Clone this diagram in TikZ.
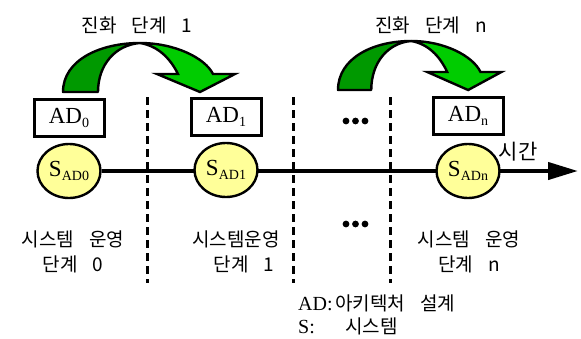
\documentclass[tikz,border=0pt]{standalone}
\usepackage{fontspec}
\setmainfont{Liberation Serif}
\newfontfamily\krfont[WordSpace=3.5]{Noto Sans CJK KR}
\usepackage{tikz}
\usetikzlibrary{shapes.geometric, positioning, arrows.meta, backgrounds}

\definecolor{sysyellow}{RGB}{255,255,153}
\definecolor{backgreen}{RGB}{0,153,0}
\definecolor{frontgreen}{RGB}{0,204,0}
\newcommand{\lowtxt}[2]{\raisebox{-0.35ex}{\fontsize{#1}{#1}\selectfont #2}}

\begin{document}
\begin{tikzpicture}[x=1pt,y=-1pt,node distance=5pt,
                    evoarrow/.pic={
                      \filldraw[fill=backgreen,line width=2.4pt,line join=round]
                        (0,0) .. controls (0,-32) and (37,-49) .. (77,-49)
                        .. controls (52,-47) and (35,-27) .. (35,0) -- cycle;
                      \filldraw[fill=frontgreen,line width=2.4pt,line join=miter]
                        (77,-49) .. controls (112,-49) and (142,-34) .. (150,-18)
                        -- (172,-18) -- (137,0) -- (94,-18) -- (115,-18)
                        .. controls (107,-34) and (95,-46) .. (77,-49) -- cycle;
                    }]
\tikzstyle{every node}=[inner sep=0pt]
\tikzstyle{sysnode}=[ellipse,draw=black,line width=2.4pt,fill=sysyellow,minimum width=63pt,minimum height=54pt,font=\fontsize{23}{23}\selectfont]
\tikzstyle{adbox}=[rectangle,draw=black,line width=3pt,minimum width=70pt,minimum height=37pt,font=\fontsize{23}{23}\selectfont]
\tikzstyle{krtext}=[align=center,font=\krfont\fontsize{19}{25}\selectfont]
\tikzstyle{stageline}=[line width=3pt,dash pattern=on 8pt off 5pt]
\useasboundingbox (0,0) rectangle (581,338);

        % systems on the time line
        \node[sysnode]                (s0)   at (69,171)          {S\lowtxt{14}{AD0}};
        \node[sysnode]                (s1)   at (226,170)         {S\lowtxt{14}{AD1}};
        \node[sysnode]                (sn)   at (468,171)         {S\lowtxt{14}{ADn}};
        \coordinate                   (tend) at (578,171);

        % architecture designs
        \node[adbox]                  (ad0)  [above=5pt of s0]    {AD\lowtxt{14}{0}};
        \node[adbox]                  (ad1)  [above=5pt of s1]    {AD\lowtxt{14}{1}};
        \node[adbox]                  (adn)  [above=7pt of sn]    {AD\lowtxt{14}{n}};

        % evolution steps
        \pic at (63,92) {evoarrow};
        \pic[xscale=0.95] at (338,90) {evoarrow};
        \node[krtext]                 (evo1) at (137,25)          {진화 단계 1};
        \node[krtext]                 (evon) at (431,25)          {진화 단계 n};

        % operation stages
        \node[krtext]                 (op0)  at (73,252)          {시스템 운영\\단계 0};
        \node[krtext]                 (op1)  at (236,252)         {시스템운영\\\hspace*{16pt}단계 1};
        \node[krtext]                 (opn)  at (469,252)         {시스템 운영\\단계 n};
        \node[krtext,font=\krfont\fontsize{21}{21}\selectfont] (time) at (518,152) {시간};

        \foreach \x in {147,293,390}
          \draw[stageline] (\x,97) -- (\x,283);
        \foreach \y in {121,224}
          \foreach \i in {0,1,2}
            \fill (346+\i*9.5,\y) circle (3.4);

        % legend
        \node[anchor=west]            (leg1) at (298,303)
          {\fontsize{20}{20}\selectfont\makebox[37pt][l]{AD:}\krfont\fontsize{19}{19}\selectfont 아키텍처 설계};
        \node[anchor=west]            (leg2) at (298,326)
          {\fontsize{20}{20}\selectfont\makebox[47pt][l]{S:}\krfont\fontsize{19}{19}\selectfont 시스템};

        \begin{scope}[on background layer]
        \draw[line width=4.2pt,-{Triangle[length=30pt,width=17pt]}] (s0.east) -- (tend);
        \end{scope}
\end{tikzpicture}
\end{document}
